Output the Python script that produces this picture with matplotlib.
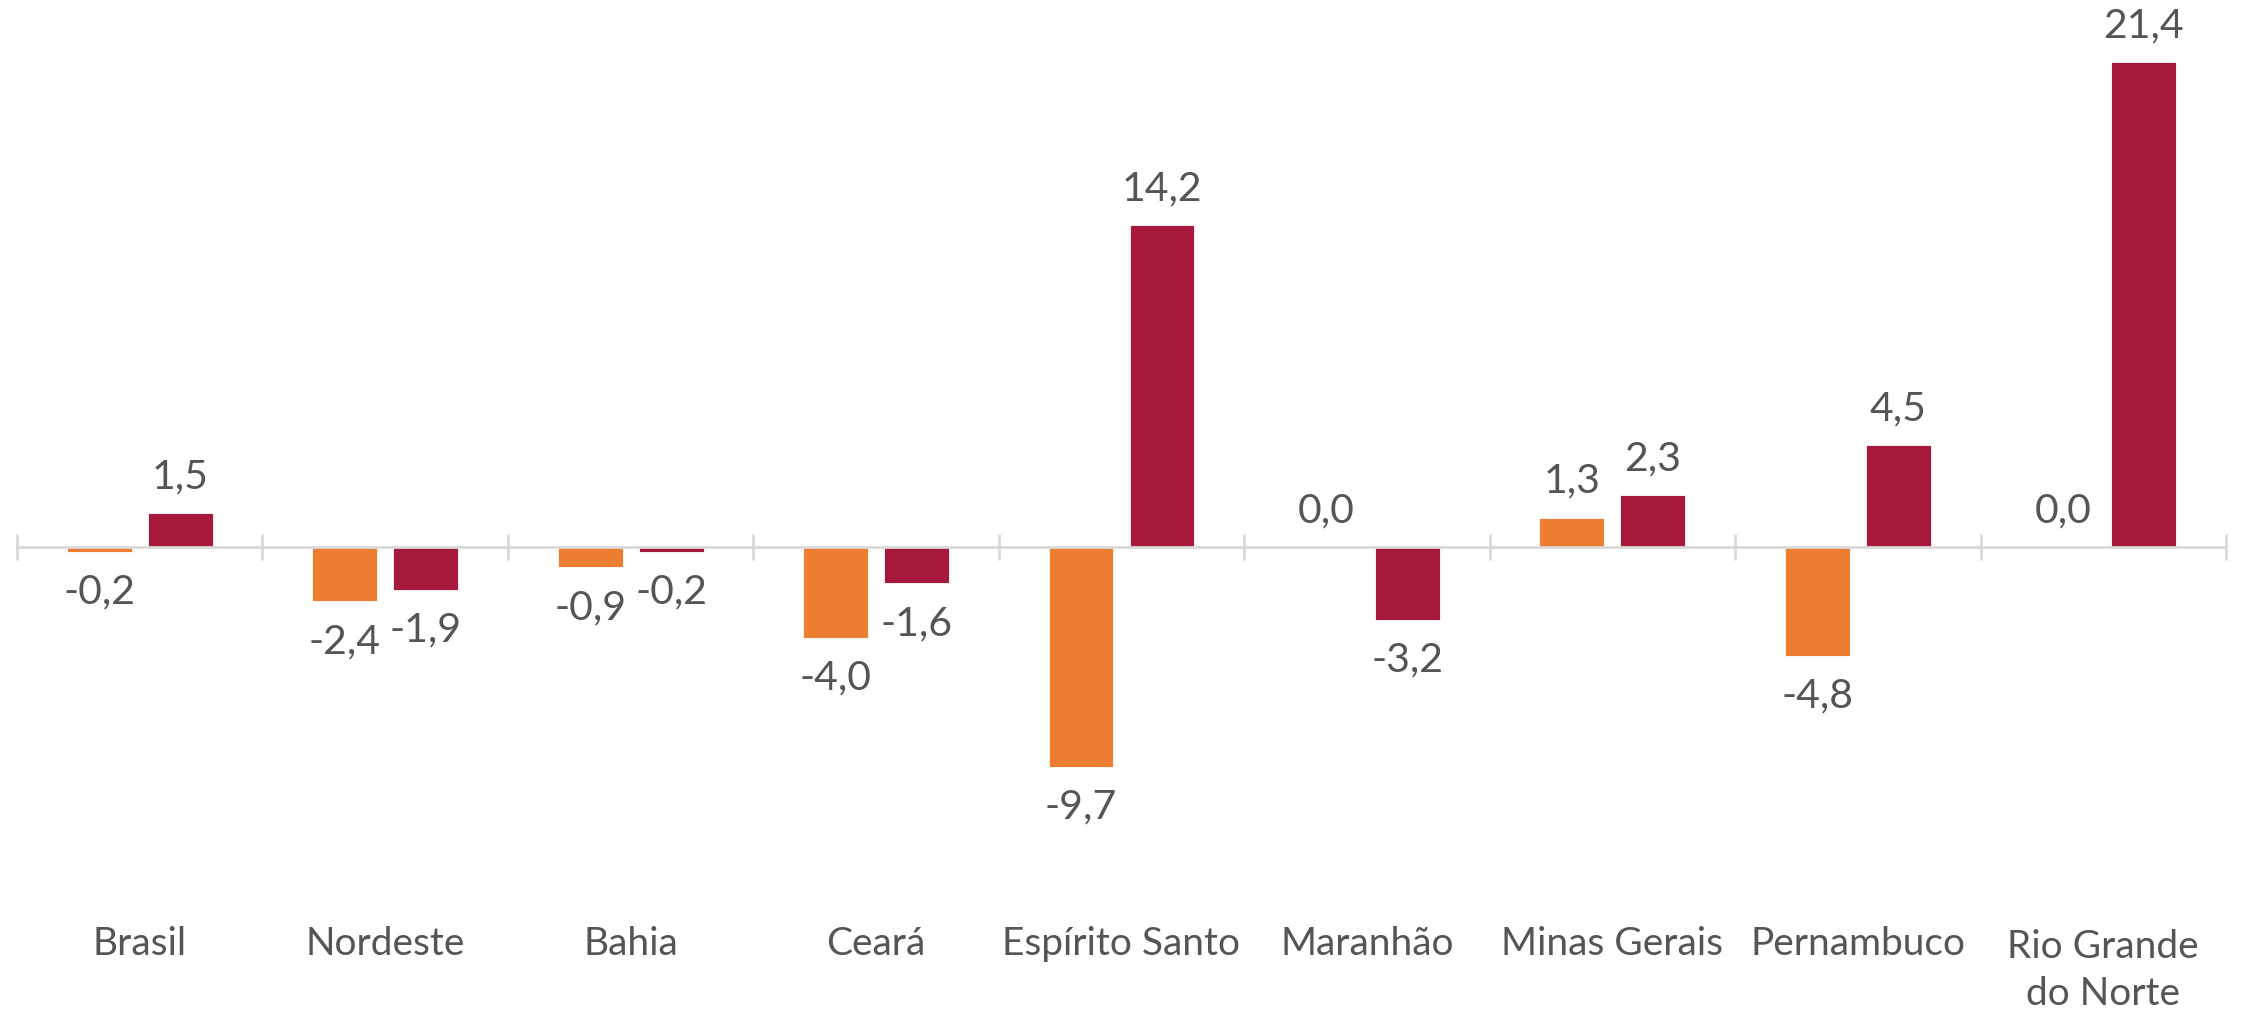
import matplotlib.pyplot as plt
import numpy as np

plt.rcParams["font.family"] = ["Lato", "DejaVu Sans"]

# ─── Data ──────────────────────────────────────────────────────────────────
categories = [
    "Brasil",
    "Nordeste",
    "Bahia",
    "Ceará",
    "Espírito Santo",
    "Maranhão",
    "Minas Gerais",
    "Pernambuco",
    "Rio Grande\ndo Norte",
]
serie_laranja = [-0.2, -2.4, -0.9, -4.0, -9.7, 0.0, 1.3, -4.8, 0.0]
serie_vinho = [1.5, -1.9, -0.2, -1.6, 14.2, -3.2, 2.3, 4.5, 21.4]

ORANGE = "#ED7D31"
WINE = "#A6193C"
TEXT = "#555555"
AXIS = "#D9D9D9"

W, H, DPI = 2242, 1010, 100
fig = plt.figure(figsize=(W / DPI, H / DPI), dpi=DPI)

# axes span the full height; x range maps category boundaries to the tick marks
left_px, right_px = 17, 2226
ax = fig.add_axes([left_px / W, 0.0, (right_px - left_px) / W, 1.0])

zero_px = 547  # pixel row of the zero line (from top)
px_per_unit = 22.67
ax.set_ylim(-(H - zero_px) / px_per_unit, zero_px / px_per_unit)
ax.set_xlim(-0.5, len(categories) - 0.5)

x = np.arange(len(categories))
bar_w = 0.264
off = 0.165
ax.bar(x - off, serie_laranja, bar_w, color=ORANGE, edgecolor="white", linewidth=0.6, zorder=3)
ax.bar(x + off, serie_vinho, bar_w, color=WINE, edgecolor="white", linewidth=0.6, zorder=3)

# zero axis with crossing ticks at category boundaries
for s in ["top", "left", "right"]:
    ax.spines[s].set_visible(False)
ax.spines["bottom"].set_position(("data", 0))
ax.spines["bottom"].set_color(AXIS)
ax.spines["bottom"].set_linewidth(2.0)
ax.spines["bottom"].set_zorder(4)
ax.set_xticks(np.arange(-0.5, len(categories), 1.0))
ax.tick_params(axis="x", direction="inout", length=19, width=2.0, color=AXIS, labelbottom=False)
ax.set_yticks([])


def fmt(v):
    return f"{v:.1f}".replace(".", ",")


# data labels
for xs, vals in ((x - off, serie_laranja), (x + off, serie_vinho)):
    for xi, v in zip(xs, vals):
        dy = 26 if v >= 0 else -29
        ax.annotate(
            fmt(v),
            (xi, v),
            xytext=(0, dy),
            textcoords="offset points",
            ha="center",
            va="center",
            fontsize=29.5,
            color=TEXT,
        )

# category labels (baseline of the last line; 50 px between lines)
for xi, name in zip(x, categories):
    n_lines = name.count("\n") + 1
    base_px = 955 + 50 * (n_lines - 1)
    ax.text(
        xi,
        -(base_px - zero_px) / px_per_unit,
        name,
        ha="center",
        va="baseline",
        fontsize=28,
        color=TEXT,
        linespacing=1.38,
    )

fig.savefig("out.png", dpi=DPI)
